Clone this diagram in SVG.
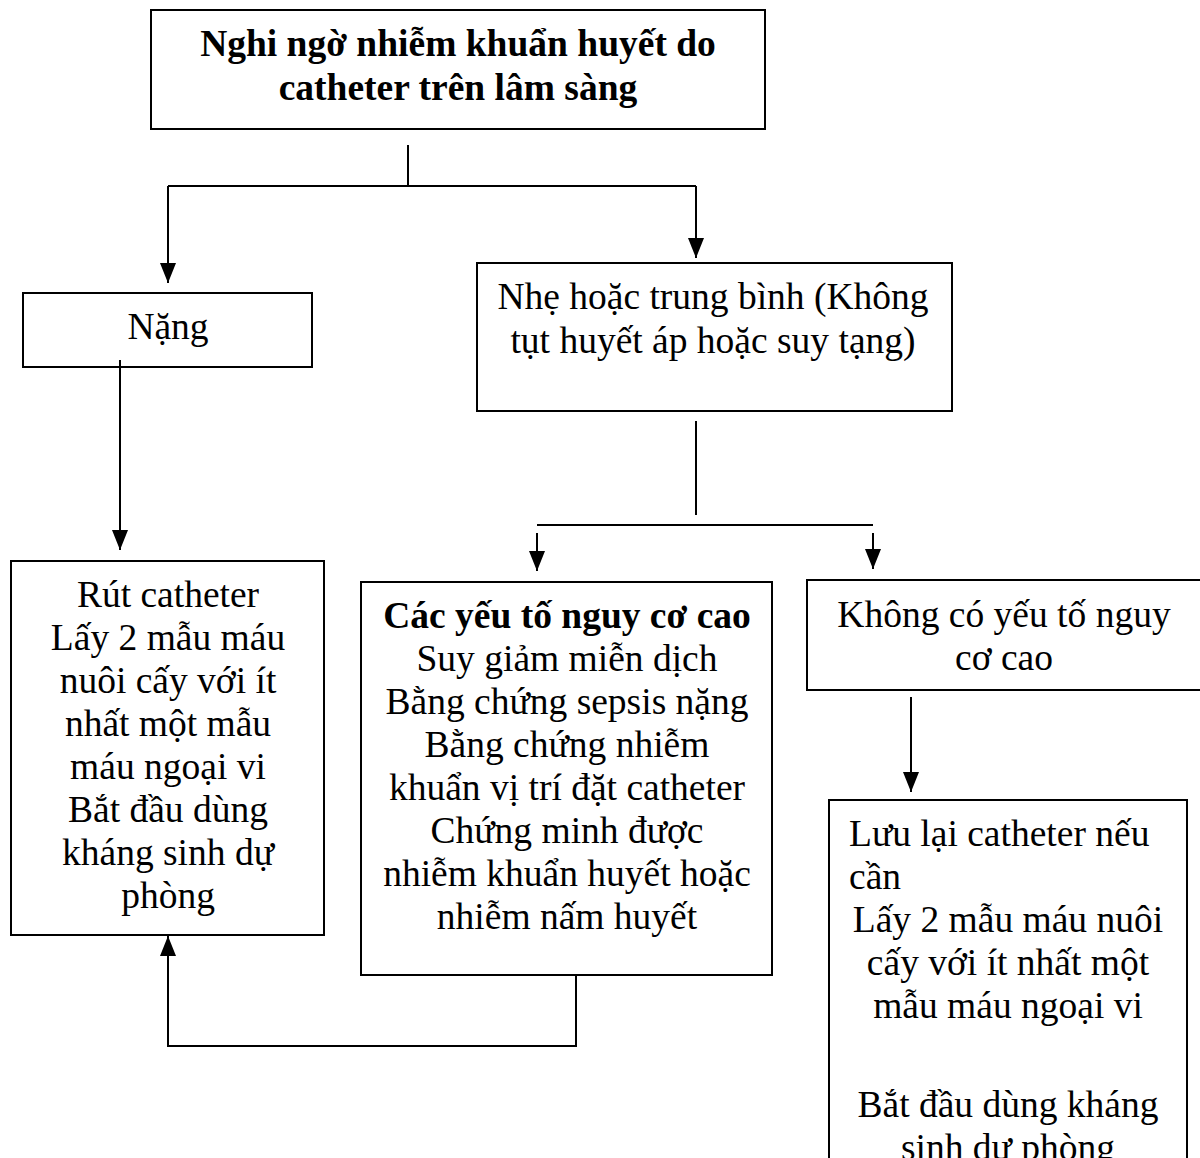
<svg xmlns="http://www.w3.org/2000/svg" width="1200" height="1158" viewBox="0 0 1200 1158">
  <style>
    .box { fill: none; stroke: #000000; stroke-width: 2; }
    .t { font-family: "Liberation Serif", "Times New Roman", serif; font-size: 37.5px; fill: #000000; text-anchor: middle; }
    .b { font-weight: bold; }
    .l { text-anchor: start; }
    .edge { fill: none; stroke: #000000; stroke-width: 2; }
  </style>
  <defs>
    <marker id="tip" markerUnits="userSpaceOnUse" markerWidth="20" markerHeight="16" refX="20" refY="8" orient="auto" viewBox="0 0 20 16">
      <path d="M0,0 L20,8 L0,16 Z" fill="#000000"/>
    </marker>
  </defs>

  <rect width="1200" height="1158" fill="#ffffff"/>

  <!-- connectors -->
  <g id="connectors">
    <!-- from the top box to the two severity branches -->
    <path class="edge" d="M408,145 L408,186"/>
    <path class="edge" d="M168,186 L696,186"/>
    <path class="edge" d="M168,186 L168,283" marker-end="url(#tip)"/>
    <path class="edge" d="M696,186 L696,258" marker-end="url(#tip)"/>
    <!-- severe branch -->
    <path class="edge" d="M120,360 L120,550" marker-end="url(#tip)"/>
    <!-- mild/moderate branch split -->
    <path class="edge" d="M696,421 L696,515"/>
    <path class="edge" d="M537,525 L873,525"/>
    <path class="edge" d="M537,533 L537,571" marker-end="url(#tip)"/>
    <path class="edge" d="M873,533 L873,569" marker-end="url(#tip)"/>
    <!-- no high-risk factors -->
    <path class="edge" d="M911,697 L911,792" marker-end="url(#tip)"/>
    <!-- high-risk factors loop back to catheter removal -->
    <path class="edge" d="M576,976 L576,1046 L168,1046 L168,936" marker-end="url(#tip)"/>
  </g>

  <g id="node-suspect">
    <rect class="box" x="151" y="10" width="614" height="119"/>
    <text class="t b" x="458" y="56">Nghi ngờ nhiễm khuẩn huyết do</text>
    <text class="t b" x="458" y="100">catheter trên lâm sàng</text>
  </g>

  <g id="node-severe">
    <rect class="box" x="23" y="293" width="289" height="74"/>
    <text class="t" x="168" y="339">Nặng</text>
  </g>

  <g id="node-mild">
    <rect class="box" x="477" y="263" width="475" height="148"/>
    <text class="t" x="713" y="309">Nhẹ hoặc trung bình (Không</text>
    <text class="t" x="713" y="353">tụt huyết áp hoặc suy tạng)</text>
  </g>

  <g id="node-remove">
    <rect class="box" x="11" y="561" width="313" height="374"/>
    <text class="t" x="168" y="607">Rút catheter</text>
    <text class="t" x="168" y="650">Lấy 2 mẫu máu</text>
    <text class="t" x="168" y="693">nuôi cấy với ít</text>
    <text class="t" x="168" y="736">nhất một mẫu</text>
    <text class="t" x="168" y="779">máu ngoại vi</text>
    <text class="t" x="168" y="822">Bắt đầu dùng</text>
    <text class="t" x="168" y="865">kháng sinh dự</text>
    <text class="t" x="168" y="908">phòng</text>
  </g>

  <g id="node-highrisk">
    <rect class="box" x="361" y="582" width="411" height="393"/>
    <text class="t b" x="567" y="628">Các yếu tố nguy cơ cao</text>
    <text class="t" x="567" y="671">Suy giảm miễn dịch</text>
    <text class="t" x="567" y="714">Bằng chứng sepsis nặng</text>
    <text class="t" x="567" y="757">Bằng chứng nhiễm</text>
    <text class="t" x="567" y="800">khuẩn vị trí đặt catheter</text>
    <text class="t" x="567" y="843">Chứng minh được</text>
    <text class="t" x="567" y="886">nhiễm khuẩn huyết hoặc</text>
    <text class="t" x="567" y="929">nhiễm nấm huyết</text>
  </g>

  <g id="node-nohighrisk">
    <rect class="box" x="807" y="580" width="400" height="110"/>
    <text class="t" x="1004" y="627">Không có yếu tố nguy</text>
    <text class="t" x="1004" y="670">cơ cao</text>
  </g>

  <g id="node-keep">
    <rect class="box" x="829" y="800" width="358" height="380"/>
    <text class="t l" x="849" y="846">Lưu lại catheter nếu</text>
    <text class="t l" x="849" y="889">cần</text>
    <text class="t" x="1008" y="932">Lấy 2 mẫu máu nuôi</text>
    <text class="t" x="1008" y="975">cấy với ít nhất một</text>
    <text class="t" x="1008" y="1018">mẫu máu ngoại vi</text>
    <text class="t" x="1008" y="1117">Bắt đầu dùng kháng</text>
    <text class="t" x="1008" y="1160">sinh dự phòng</text>
  </g>
</svg>
